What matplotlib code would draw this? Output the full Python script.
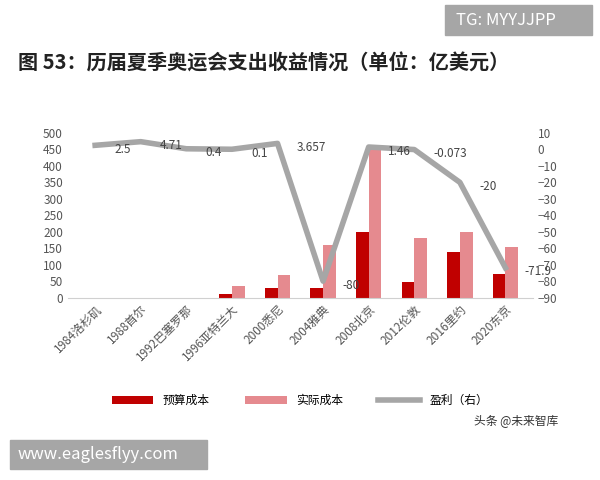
import matplotlib
matplotlib.use("Agg")
import matplotlib.pyplot as plt
import numpy as np

plt.rcParams['font.family'] = ['Noto Sans CJK SC', 'DejaVu Sans']

cities = ["1984洛杉矶", "1988首尔", "1992巴塞罗那", "1996亚特兰大", "2000悉尼",
          "2004雅典", "2008北京", "2012伦敦", "2016里约", "2020东京"]
budget = [0, 0, 0, 10, 30, 28, 200, 48, 140, 72]
actual = [0, 0, 0, 35, 68, 160, 455, 180, 200, 155]
profit = [2.5, 4.71, 0.4, 0.1, 3.657, -80, 1.46, -0.073, -20, -71.9]
profit_labels = ["2.5", "4.71", "0.4", "0.1", "3.657", "-80", "1.46", "-0.073", "-20", "-71.9"]

fig = plt.figure(figsize=(6, 4.8), dpi=100)
fig.text(0.03, 0.855, "图 53：历届夏季奥运会支出收益情况（单位：亿美元）", fontsize=14.5,
         fontweight='bold', color='#222222')
fig.patches.append(plt.Rectangle((0.742, 0.928), 0.245, 0.062, transform=fig.transFigure,
                                 color='#a6a6a6', zorder=0))
fig.text(0.76, 0.958, "TG: MYYJJPP", fontsize=12, color='white', va='center')
fig.patches.append(plt.Rectangle((0.017, 0.022), 0.328, 0.062, transform=fig.transFigure,
                                 color='#a6a6a6', zorder=0))
fig.text(0.03, 0.053, "www.eaglesflyy.com", fontsize=12, color='white', va='center')

ax = fig.add_axes([0.113, 0.38, 0.775, 0.343])
x = np.arange(len(cities))
w = 0.28
ax.bar(x - w/2, budget, w, color='#c00000', label='预算成本')
ax.bar(x + w/2, actual, w, color='#e58a8f', label='实际成本')
ax.set_ylim(0, 500)
ax.set_yticks(range(0, 501, 50))
ax.set_xlim(-0.6, 9.6)
ax.set_xticks(x)
ax.set_xticklabels(cities, rotation=45, ha='right', rotation_mode='anchor', fontsize=8.5, color='#555555')
for s in ['top', 'right', 'left']:
    ax.spines[s].set_visible(False)
ax.spines['bottom'].set_color('#d0d0d0')
ax.tick_params(axis='both', length=0, labelsize=8.5, labelcolor='#555555')

ax2 = ax.twinx()
ax2.plot(x, profit, color='#a6a6a6', lw=4, label='盈利（右）')
ax2.set_ylim(-90, 10)
ax2.set_yticks(range(-90, 11, 10))
for s in ax2.spines.values():
    s.set_visible(False)
ax2.tick_params(axis='y', length=0, labelsize=8.5, labelcolor='#555555')
for xi, p, lab in zip(x, profit, profit_labels):
    ax2.annotate(lab, (xi, p), xytext=(14, -3), textcoords='offset points',
                 fontsize=8.5, color='#444444', va='center')

h1, l1 = ax.get_legend_handles_labels()
h2, l2 = ax2.get_legend_handles_labels()
fig.legend(h1 + h2, l1 + l2, loc='center', bbox_to_anchor=(0.5, 0.165), ncol=3,
           frameon=False, fontsize=8.5, handlelength=3.5, columnspacing=3)
fig.text(0.79, 0.115, "头条 @未来智库", fontsize=8.5, color='#333333')

fig.savefig("out.png", dpi=100)
